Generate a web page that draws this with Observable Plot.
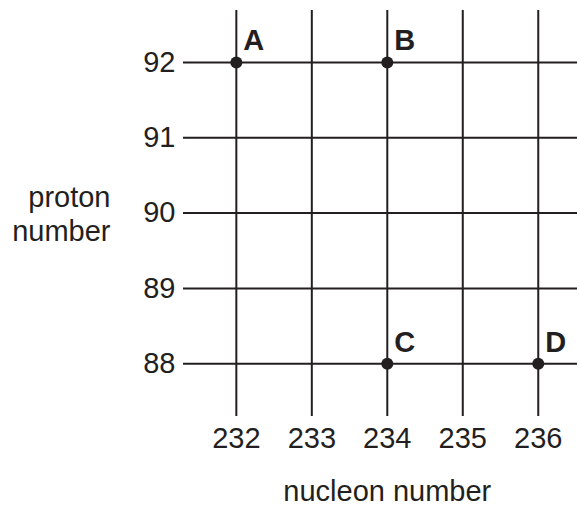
<!DOCTYPE html>
<html>
<head>
<meta charset="utf-8">
<script src="https://cdn.jsdelivr.net/npm/d3@7"></script>
<script src="https://cdn.jsdelivr.net/npm/@observablehq/plot@0.6"></script>
<style>
  html, body { margin: 0; padding: 0; background: #fff; }
  #chart svg { display: block; }
</style>
</head>
<body>
<div id="chart"></div>
<script>
const nucleonTicks = [232, 233, 234, 235, 236];
const protonTicks = [88, 89, 90, 91, 92];
const nucleonExtent = [231.3, 236.52];
const protonExtent = [87.3, 92.69];
const pointLabels = ["A", "B", "C", "D"];
const pointNucleon = [232, 234, 234, 236];
const pointProton = [92, 92, 88, 88];
const xLabel = "nucleon number";
const yLabel = "proton\nnumber";

const points = pointLabels.map((label, i) => ({label, x: pointNucleon[i], y: pointProton[i]}));
const ink = "#231f20";
const font = "'Liberation Sans', Arial, Helvetica, sans-serif";
const fs = 29;

const chart = Plot.plot({
  width: 580,
  height: 507,
  marginLeft: 183,
  marginRight: 3,
  marginTop: 10,
  marginBottom: 91,
  style: {fontFamily: font, background: "#fff", color: ink},
  x: {domain: nucleonExtent, axis: null},
  y: {domain: protonExtent, axis: null},
  marks: [
    Plot.ruleX(nucleonTicks, {x: d => d, stroke: ink, strokeWidth: 2}),
    Plot.ruleY(protonTicks, {y: d => d, stroke: ink, strokeWidth: 2}),
    Plot.dot(points, {x: "x", y: "y", r: 6, fill: ink, stroke: "none"}),
    Plot.text(points, {x: "x", y: "y", text: "label", dx: 7, dy: -12, textAnchor: "start", lineAnchor: "bottom", fontSize: fs, fontWeight: "bold", fill: ink}),
    Plot.text(protonTicks, {y: d => d, text: d => String(d), frameAnchor: "left", dx: -8, textAnchor: "end", lineAnchor: "middle", fontSize: fs, fill: ink}),
    Plot.text(nucleonTicks, {x: d => d, text: d => String(d), frameAnchor: "bottom", dy: 31, textAnchor: "middle", lineAnchor: "bottom", fontSize: fs, fill: ink}),
    Plot.text([xLabel], {x: () => d3.mean(nucleonTicks), text: d => d, frameAnchor: "bottom", dy: 84, textAnchor: "middle", lineAnchor: "bottom", fontSize: fs, fill: ink}),
    Plot.text([yLabel], {text: d => d, frameAnchor: "left", dx: -73, dy: 27, textAnchor: "end", lineAnchor: "bottom", lineHeight: 1.17, fontSize: fs, fill: ink})
  ]
});
document.getElementById("chart").appendChild(chart);
</script>
</body>
</html>
